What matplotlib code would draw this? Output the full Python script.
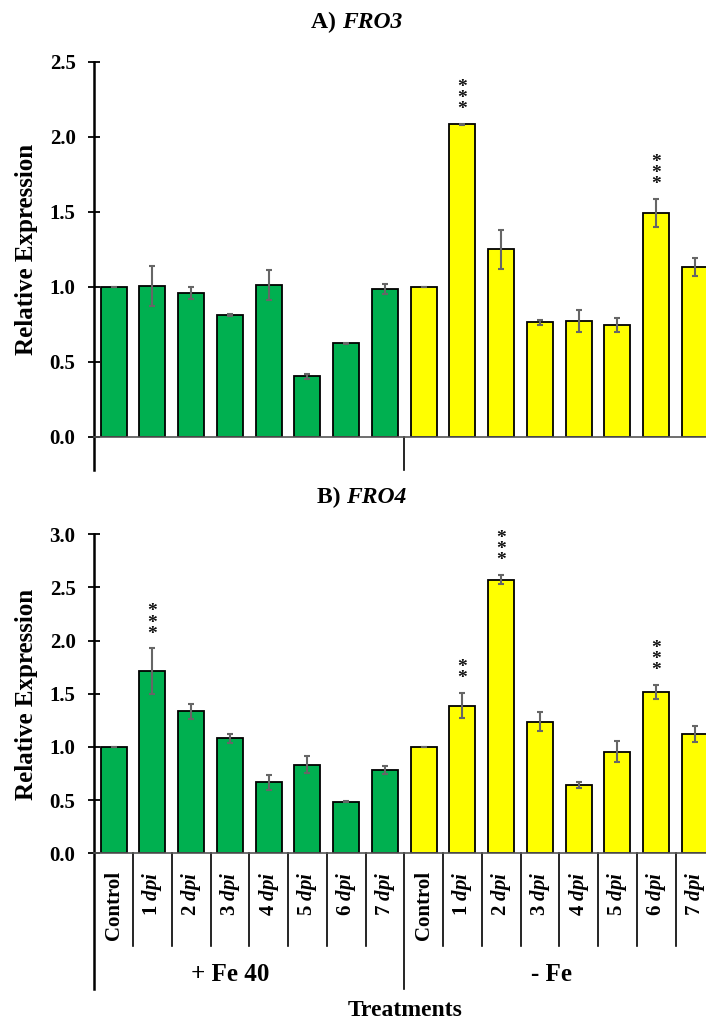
import numpy as np
import matplotlib
matplotlib.use("Agg")
from matplotlib import pyplot as plt

plt.rcParams['font.family'] = 'Liberation Serif'
plt.rcParams['font.weight'] = 'bold'
plt.rcParams['mathtext.fontset'] = 'custom'
plt.rcParams['mathtext.it'] = 'Liberation Serif:italic:bold'
plt.rcParams['mathtext.rm'] = 'Liberation Serif:bold'

# data
categories = ['Control', '1 dpi', '2 dpi', '3 dpi', '4 dpi', '5 dpi', '6 dpi', '7 dpi'] * 2
groups = ['+ Fe 40', '- Fe']

fro3_fe40 = [1.00, 1.005, 0.958, 0.81, 1.013, 0.403, 0.622, 0.987]
fro3_fe40_err = [0.0, 0.135, 0.04, 0.005, 0.10, 0.016, 0.003, 0.033]
fro3_nofe = [1.00, 2.083, 1.249, 0.762, 0.771, 0.745, 1.493, 1.131]
fro3_nofe_err = [0.0, 0.005, 0.13, 0.017, 0.073, 0.049, 0.095, 0.06]
fro3_stars = ['', '', '', '', '', '', '', '', '', '***', '', '', '', '', '***', '']

fro4_fe40 = [1.00, 1.715, 1.336, 1.082, 0.668, 0.834, 0.483, 0.784]
fro4_fe40_err = [0.0, 0.213, 0.069, 0.042, 0.069, 0.077, 0.005, 0.034]
fro4_nofe = [1.00, 1.389, 2.574, 1.238, 0.64, 0.956, 1.517, 1.12]
fro4_nofe_err = [0.0, 0.119, 0.045, 0.09, 0.027, 0.10, 0.07, 0.073]
fro4_stars = ['', '***', '', '', '', '', '', '', '', '**', '***', '', '', '', '***', '']

GREEN = '#00B050'
YELLOW = '#FFFF00'
W, H = 706, 1019


def px(v, total):
    return v / total


def draw_panel(ax, vals_a, err_a, vals_b, err_b, stars, ymax, step):
    x = np.arange(16)
    vals = vals_a + vals_b
    errs = err_a + err_b
    colors = [GREEN] * 8 + [YELLOW] * 8
    ax.bar(x, vals, 0.67, color=colors, edgecolor='black', linewidth=1.3, zorder=2)
    ax.errorbar(x, vals, yerr=errs, fmt='none', ecolor='#666666', elinewidth=1.5,
                capsize=2.5, capthick=1.5, zorder=3)
    for xi, v, e, s in zip(x, vals, errs, stars):
        if s:
            ax.annotate('\n'.join(s), (xi, v + e), xytext=(0, 4), textcoords='offset points',
                        ha='center', va='bottom', fontsize=14, linespacing=0.55,
                        fontweight='bold', color='#111111')
    ticks = np.arange(0, ymax + 0.01, step)
    ax.set_xlim(-0.5, 15.5)
    ax.set_ylim(0, ymax)
    ax.set_yticks(ticks)
    ax.set_yticklabels([f'{t:.1f}' for t in ticks])
    ax.tick_params(axis='y', direction='inout', length=9, width=1.3, labelsize=15, pad=9)
    ax.tick_params(axis='x', length=0)
    for side in ['top', 'right', 'left']:
        ax.spines[side].set_visible(False)
    ax.spines['bottom'].set_color('#555555')
    ax.spines['bottom'].set_linewidth(1.2)


def panel_title(xc, yc, prefix, gene):
    fig.text(px(xc, W), 1 - px(yc, H), prefix + ' ', ha='right', va='center', fontsize=17)
    fig.text(px(xc, W), 1 - px(yc, H), gene, ha='left', va='center', fontsize=17, style='italic')


fig = plt.figure(figsize=(W / 100, H / 100), dpi=100)
left = px(94.3, W)
width = px(620, W)

ax1 = fig.add_axes([left, px(H - 436.7, H), width, px(375, H)])
draw_panel(ax1, fro3_fe40, fro3_fe40_err, fro3_nofe, fro3_nofe_err, fro3_stars, 2.5, 0.5)
ax1.set_xticks([])
d1 = 33 / 375
ax1.plot([-0.5, -0.5], [-d1, 1], color='black', lw=1.8, transform=ax1.get_xaxis_transform(), clip_on=False)
ax1.plot([7.5, 7.5], [-d1, 0], color='black', lw=1.2, transform=ax1.get_xaxis_transform(), clip_on=False)

ax2 = fig.add_axes([left, px(H - 853.3, H), width, px(319, H)])
draw_panel(ax2, fro4_fe40, fro4_fe40_err, fro4_nofe, fro4_nofe_err, fro4_stars, 3.0, 0.5)
labels = [c if c == 'Control' else c.split()[0] + r' $\mathit{dpi}$' for c in categories]
ax2.set_xticks(np.arange(16))
ax2.set_xticklabels(labels, rotation=90, fontsize=15, va='top')
ax2.tick_params(axis='x', pad=13)
hb = 319
short = 93 / hb
long_ = 136 / hb
tr = ax2.get_xaxis_transform()
ax2.plot([-0.5, -0.5], [-long_, 1], color='black', lw=1.8, transform=tr, clip_on=False)
ax2.plot([7.5, 7.5], [-long_, 0], color='black', lw=1.2, transform=tr, clip_on=False)
for k in range(15):
    if k != 7:
        ax2.plot([k + 0.5, k + 0.5], [-short, 0], color='black', lw=1.2, transform=tr, clip_on=False)
ax2.text(3.0, -121 / hb, groups[0], transform=tr, ha='center', va='center', fontsize=18)
ax2.text(11.3, -121 / hb, groups[1], transform=tr, ha='center', va='center', fontsize=18)

fig.text(px(405, W), 1 - px(1010, H), 'Treatments', ha='center', va='center', fontsize=17)
panel_title(342, 22, 'A)', 'FRO3')
panel_title(346, 497, 'B)', 'FRO4')
fig.text(px(27, W), 1 - px(249, H), 'Relative Expression', rotation=90, ha='center', va='center', fontsize=18)
fig.text(px(27, W), 1 - px(694, H), 'Relative Expression', rotation=90, ha='center', va='center', fontsize=18)

fig.savefig('out.png', dpi=100)
